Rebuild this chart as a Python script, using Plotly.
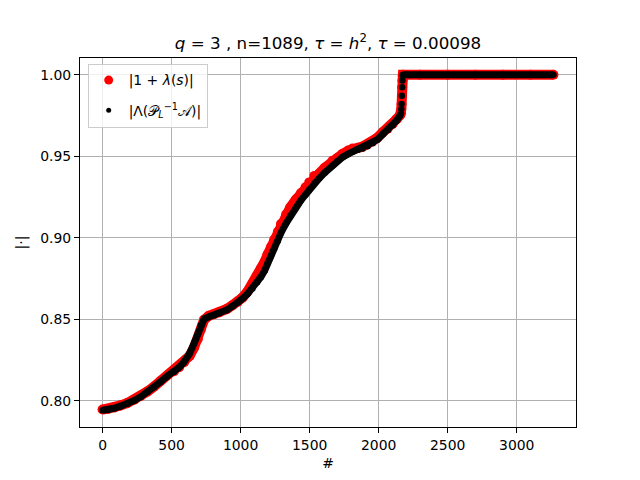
import plotly.graph_objects as go

# index of sorted eigenvalue (#)
idx = [0, 40, 83, 130, 180, 230, 277, 325, 373, 420, 470, 518, 555, 591, 630,
       663, 690, 712, 736, 770, 808, 845, 900, 941, 980, 1014, 1050, 1086,
       1120, 1147, 1175, 1195, 1220, 1244, 1270, 1292, 1330, 1360, 1400, 1437,
       1470, 1497, 1534, 1570, 1610, 1666, 1700, 1739, 1780, 1811, 1850, 1884,
       1920, 1957, 1990, 2029, 2065, 2101, 2130, 2155, 2162,
       2164, 2166, 2168, 2170, 2172, 2174,
       2176, 2300, 2500, 2700, 2900, 3100, 3266]

# |Lambda(P_L^{-1} A)|  (black)
eig_abs = [0.7943, 0.7946, 0.7955, 0.7968, 0.7983, 0.8003, 0.8026, 0.8054,
           0.8084, 0.8118, 0.8153, 0.8179, 0.8206, 0.8240, 0.8290, 0.8353,
           0.8410, 0.8465, 0.8503, 0.8516, 0.8526, 0.8537, 0.8558, 0.8581,
           0.8603, 0.8628, 0.8656, 0.8689, 0.8727, 0.8760, 0.8800, 0.8842,
           0.8888, 0.8934, 0.8982, 0.9030, 0.9090, 0.9135, 0.9185, 0.9230,
           0.9265, 0.9295, 0.9335, 0.9365, 0.9400, 0.9443, 0.9470, 0.9495,
           0.9515, 0.9528, 0.9540, 0.9548, 0.9562, 0.9580, 0.9602, 0.9635,
           0.9662, 0.9690, 0.9720, 0.9750, 0.9762,
           0.9790, 0.9821, 0.9872, 0.9923, 0.9965, 0.9996,
           1.0, 1.0, 1.0, 1.0, 1.0, 1.0, 1.0]

# |1 + lambda(s)|  (red)
shift_abs = [0.7947, 0.7950, 0.7959, 0.7972, 0.7987, 0.8007, 0.8030, 0.8058,
             0.8088, 0.8122, 0.8157, 0.8182, 0.8206, 0.8237, 0.8275, 0.8328,
             0.8380, 0.8440, 0.8498, 0.8522, 0.8532, 0.8543, 0.8564, 0.8587,
             0.8609, 0.8634, 0.8671, 0.8719, 0.8767, 0.8810, 0.8855, 0.8897,
             0.8943, 0.8989, 0.9037, 0.9085, 0.9145, 0.9188, 0.9235, 0.9275,
             0.9310, 0.9340, 0.9380, 0.9395, 0.9430, 0.9473, 0.9490, 0.9515,
             0.9535, 0.9548, 0.9552, 0.9560, 0.9574, 0.9592, 0.9614, 0.9647,
             0.9670, 0.9698, 0.9728, 0.9753, 0.9764,
             0.9790, 0.9821, 0.9872, 0.9923, 0.9965, 0.9996,
             1.0, 1.0, 1.0, 1.0, 1.0, 1.0, 1.0]

title_txt = ("<i>q</i> = 3 , n=1089, <i>τ</i> = <i>h</i><sup>2</sup>, "
             "<i>τ</i> = 0.00098")
leg_red = "|1 + <i>λ</i>(<i>s</i>)|"
leg_black = "|Λ(𝒫<sub><i>L</i></sub><sup>−1</sup>𝒜)|"

FONT = "DejaVu Sans"

# black line broken over the sparse jump points
jump_lo, jump_hi = 2162, 2176
bx, by = [], []
for i, v in zip(idx, eig_abs):
    if jump_lo < i < jump_hi:
        if bx and bx[-1] is not None:
            bx.append(None)
            by.append(None)
        continue
    bx.append(i)
    by.append(v)

fig = go.Figure()
fig.add_trace(go.Scatter(x=idx, y=shift_abs, mode="lines",
                         line=dict(color="red", width=10),
                         showlegend=False, hoverinfo="skip"))
fig.add_trace(go.Scatter(x=idx, y=shift_abs, mode="markers",
                         marker=dict(color="red", size=10),
                         showlegend=False))
fig.add_trace(go.Scatter(x=bx, y=by, mode="lines", connectgaps=False,
                         line=dict(color="black", width=7),
                         showlegend=False, hoverinfo="skip"))
fig.add_trace(go.Scatter(x=idx, y=eig_abs, mode="markers",
                         marker=dict(color="black", size=6.5),
                         showlegend=False))
# legend entries
fig.add_trace(go.Scatter(x=[None], y=[None], mode="markers", name=leg_red,
                         legendgroup="a",
                         marker=dict(color="red", size=9)))
fig.add_trace(go.Scatter(x=[None], y=[None], mode="markers", name=leg_black,
                         legendgroup="b",
                         marker=dict(color="black", size=5)))

axis_common = dict(showline=True, linecolor="black", linewidth=1, mirror=True,
                   ticks="outside", ticklen=5, tickwidth=1, tickcolor="black",
                   showgrid=True, gridcolor="#b0b0b0", gridwidth=1,
                   zeroline=False, automargin=False,
                   tickfont=dict(family=FONT, size=13.9, color="black"))

# the page body adds an 8 px offset; figure is sized to fit the window
fig.update_layout(
    width=632, height=472, autosize=False,
    margin=dict(l=72.3, r=64, t=49.6, b=52.7, pad=0),
    paper_bgcolor="white", plot_bgcolor="white",
    font=dict(family=FONT, color="black", size=13.9),
    title=dict(text=title_txt, x=0.5, xref="paper", xanchor="center",
               y=1, yref="paper", yanchor="bottom", pad=dict(b=9),
               automargin=False,
               font=dict(family=FONT, size=16.7, color="black")),
    xaxis=dict(range=[-163.3, 3429.3], tickvals=[0, 500, 1000, 1500, 2000, 2500, 3000],
               title=dict(text="#", standoff=6,
                          font=dict(family=FONT, size=13.9)),
               **axis_common),
    yaxis=dict(range=[0.7840, 1.0103], tickvals=[0.80, 0.85, 0.90, 0.95, 1.00],
               tickformat=".2f",
               title=dict(text="|·|", standoff=10,
                          font=dict(family=FONT, size=13.9)),
               **axis_common),
    legend=dict(x=0.0155, y=0.985, xanchor="left", yanchor="top",
                bgcolor="rgba(255,255,255,0.8)", bordercolor="#cccccc",
                borderwidth=1, font=dict(family=FONT, size=13.9),
                traceorder="grouped", tracegroupgap=9),
    showlegend=True,
)

fig.write_html("out.html", config=dict(displayModeBar=False))
